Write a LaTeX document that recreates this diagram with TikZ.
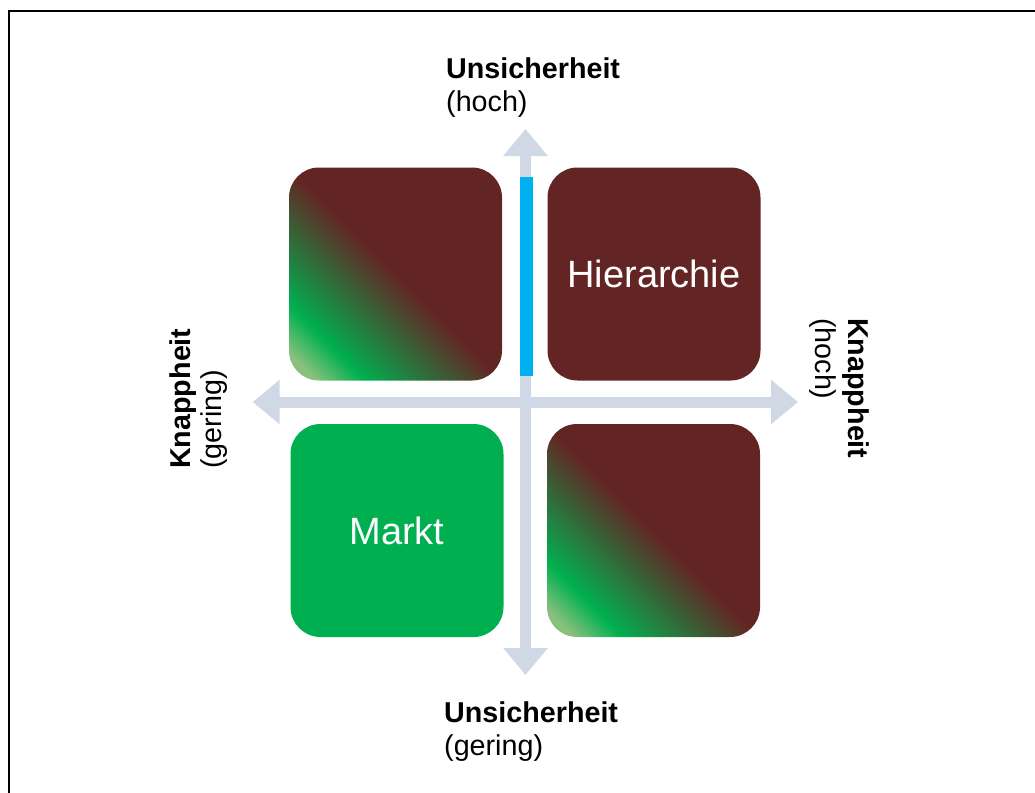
\documentclass[tikz,border=0pt]{standalone}
\usepackage{fontspec}
\setmainfont{Liberation Sans}
\usetikzlibrary{arrows.meta}
\definecolor{hibrown}{RGB}{99,37,35}
\definecolor{mkgreen}{RGB}{0,176,80}
\definecolor{palegreen}{RGB}{138,192,126}
\definecolor{axisgray}{RGB}{208,216,230}
\definecolor{barblue}{RGB}{0,176,240}
% diagonal blend from pale green through green to dark brown
\pgfdeclarehorizontalshading{mixshade}{100bp}{color(0bp)=(palegreen); color(19bp)=(palegreen); color(27bp)=(mkgreen); color(50bp)=(hibrown); color(100bp)=(hibrown)}

\begin{document}
\begin{tikzpicture}[x=1pt,y=-1pt,
  quad/.style={rectangle, rounded corners=30pt, minimum width=213pt, minimum height=213pt,
    inner sep=0pt, text=white, font=\fontsize{38}{40}\selectfont},
  mixed/.style={quad, shade, shading=mixshade, shading angle=45},
  axisline/.style={draw=axisgray, line width=11pt,
    {Triangle[width=43pt,length=27pt]}-{Triangle[width=43pt,length=27pt]}},
  lbl/.style={inner sep=0pt, font=\fontsize{28.7}{33}\selectfont}]
\useasboundingbox (0,0) rectangle (1035,792);

% frame
\coordinate (fbl) at (9.2,800);
\coordinate (ftl) at (9.2,11.2);
\coordinate (ftr) at (1045,11.2);
\draw[line width=2.4pt] (fbl) -- (ftl) -- (ftr);

% quadrants
\node[mixed] (tl) at (395.5,274) {};
\node[quad, fill=hibrown] (tr) at (654,274) {Hierarchie};
\node[quad, fill=mkgreen] (bl) at (397,530.5) {Markt};
\node[mixed] (br) at (653.5,530.5) {};

% axes
\coordinate (ytop) at (525.5,129);
\coordinate (ybot) at (525.5,675);
\coordinate (xleft) at (252.7,402);
\coordinate (xright) at (798,402);
\draw[axisline] (ybot) -- (ytop);
\draw[axisline] (xleft) -- (xright);
\node[fill=barblue, minimum width=13pt, minimum height=199pt, inner sep=0pt] (bar) at (526,276.5) {};

% axis labels
\node[lbl, anchor=base west] (uhi) at (446,78) {\bfseries Unsicherheit};
\node[lbl, anchor=base west] (uhi2) at (446,111) {(hoch)};
\node[lbl, anchor=base west] (ulo) at (444,722) {\bfseries Unsicherheit};
\node[lbl, anchor=base west] (ulo2) at (444,755) {(gering)};
\node[lbl, rotate=90, anchor=base west] (klo) at (190,469) {\bfseries Knappheit};
\node[lbl, rotate=90, anchor=base west] (klo2) at (221,469) {(gering)};
\node[lbl, rotate=-90, anchor=base west] (khi) at (848,318) {\bfseries Knappheit};
\node[lbl, rotate=-90, anchor=base west] (khi2) at (815,318) {(hoch)};
\end{tikzpicture}
\end{document}
